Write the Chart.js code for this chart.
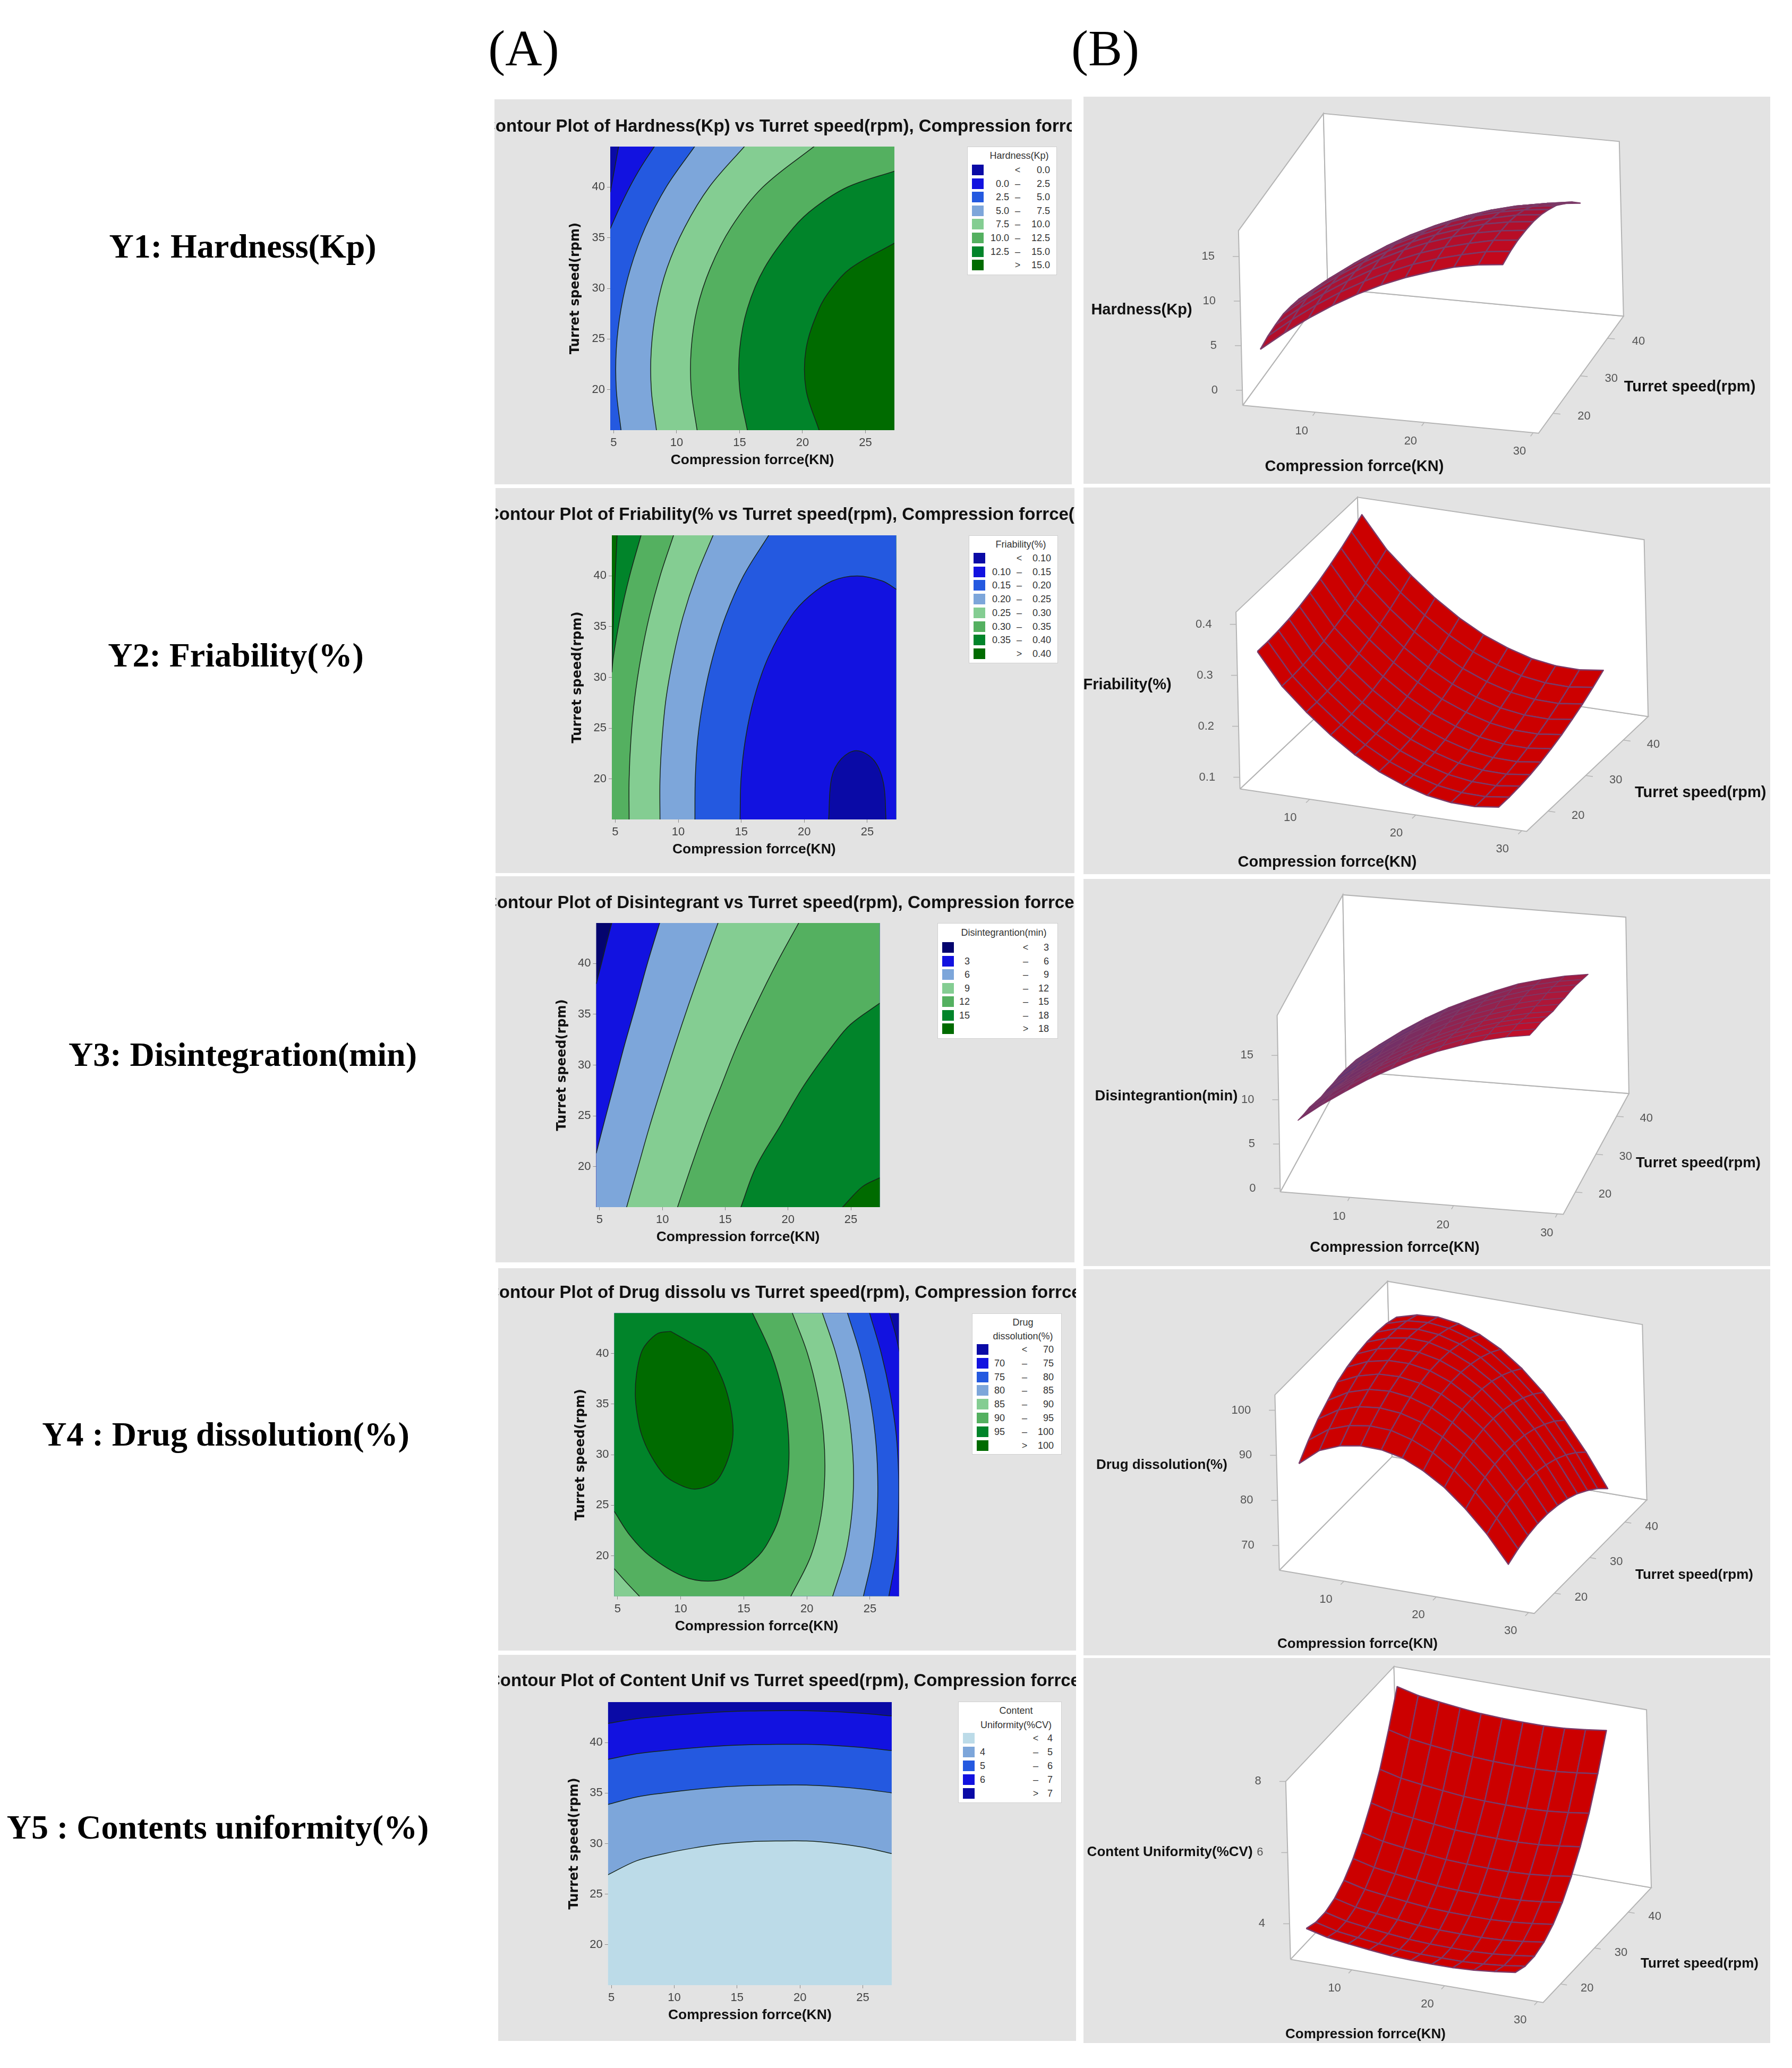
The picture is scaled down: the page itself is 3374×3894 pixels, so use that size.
<!DOCTYPE html>
<html>
<head>
<meta charset="utf-8">
<title>Contour and surface plots</title>
<script src="https://cdn.jsdelivr.net/npm/chart.js@4"></script>
<style>
  html, body { margin: 0; background: #fff; }
  #page { position: relative; width: 3374px; height: 3894px; overflow: hidden; }
  #page canvas { position: absolute; background: #e3e3e3; }
  .rowName { position: absolute; transform: translate(-50%, -50%); white-space: nowrap; font: bold 64px "Liberation Serif", serif; color: #000; }
  .colName { position: absolute; transform: translate(-50%, -50%); font: 96px "Liberation Serif", serif; color: #000; }
  .legend { position: absolute; background: #fff; border: 1px solid #cfcfcf; box-sizing: border-box; font: 18px "Liberation Sans", sans-serif; color: #333; }
  .legend div { position: absolute; white-space: nowrap; line-height: 20px; }
</style>
</head>
<body>
<div id="page"></div>
<script>
// axis limits of the contour plots
const forceMin = 4.73, forceMax = 27.3, speedMin = 16, speedMax = 44;
const forceTicks = [5, 10, 15, 20, 25];
const speedTicks = [20, 25, 30, 35, 40];
const force3dTicks = [10, 20, 30];
const speed3dTicks = [20, 30, 40];

const rowNames = ['Y1: Hardness(Kp)', 'Y2: Friability(%)', 'Y3: Disintegration(min)', 'Y4 : Drug dissolution(%)', 'Y5 : Contents uniformity(%)'];
const plotTitles = [
  'Contour Plot of Hardness(Kp) vs Turret speed(rpm), Compression forrce(KN)',
  'Contour Plot of Friability(% vs Turret speed(rpm), Compression forrce(KN)',
  'Contour Plot of Disintegrant vs Turret speed(rpm), Compression forrce(KN)',
  'Contour Plot of Drug dissolu vs Turret speed(rpm), Compression forrce(KN)',
  'Contour Plot of Content Unif vs Turret speed(rpm), Compression forrce(KN)'
];
const valueNames = ['Hardness(Kp)', 'Friability(%)', 'Disintegrantion(min)', 'Drug dissolution(%)', 'Content Uniformity(%CV)'];

// contour lines, [force, speed]
const hardnessContours = [
  [[5.4,44.07],[5.1,42],[4.73,39.5]],
  [[8.27,44.07],[7.18,42],[6.27,40],[5.48,38],[4.73,35.9]],
  [[11.47,44.07],[9.17,40],[7.51,36],[6.34,32],[5.59,28],[5.21,24],[5.21,20],[5.59,15.98]],
  [[15.43,44.07],[12.59,40],[10.63,36],[9.24,32],[8.4,28],[7.99,24],[7.99,20],[8.4,15.98]],
  [[20.98,44.07],[16.85,40],[14.32,36],[12.68,32],[11.63,28],[11.16,24],[11.16,20],[11.63,15.98]],
  [[27.35,41.6],[23.57,40],[21,38],[19.29,36],[16.97,32],[15.62,28],[15.01,24],[15.01,20],[15.62,15.98]],
  [[27.35,34.5],[23.83,32],[22.31,30],[21.32,28],[20.28,24],[20.28,20],[21.32,15.98]]
];
const friabilityContours = [
  [[5.15,44.05],[5,40],[4.85,35.5],[4.73,31]],
  [[7.06,44.05],[6.14,40],[5.4,36],[4.85,32],[4.73,30.5]],
  [[9.64,44.05],[8.56,40],[7.7,36],[7.04,32],[6.55,28],[6.25,24],[6.1,20],[6.1,15.9]],
  [[12.78,44.05],[11.43,40],[10.38,36],[9.61,32],[9.04,28],[8.72,24],[8.55,20],[8.55,15.9]],
  [[17.2,44.05],[15.17,40],[13.75,36],[12.74,32],[12.02,28],[11.55,24],[11.35,20],[11.32,15.9]],
  [[27.34,38.65],[26.2,39.5],[24.2,40],[22.2,39.5],[20.4,38],[18.93,36],[17.15,32],[16.03,28],[15.34,24],[14.98,20],[14.9,15.9]],
  [[26.49,15.9],[26.28,19.6],[25.52,21.84],[24.15,22.78],[22.93,21.96],[22.17,20.1],[21.93,15.9]]
];
const disintegrationContours = [
  [[6,44.15],[5.55,42],[5.15,40],[4.73,38]],
  [[9.82,44.15],[8.8,40],[7.91,36],[6.99,32],[6.14,28],[5.29,24],[4.73,21.3]],
  [[14.47,44.15],[13.24,40],[12.1,36],[11.02,32],[9.99,28],[8.99,24],[8.07,20],[7.14,15.95]],
  [[20.91,44.15],[19.08,40],[17.47,36],[15.98,32],[14.69,28],[13.43,24],[12.29,20],[11.19,15.95]],
  [[27.3,36.1],[24.96,34],[23.59,32],[21.27,28],[19.37,24],[17.46,20],[16.23,15.95]],
  [[27.3,18.9],[25.9,18],[24.3,15.95]]
];
const dissolutionContours = [
  [[27.37,40],[27.01,42],[26.53,44.04]],
  [[26.49,15.95],[27.06,20],[27.25,24],[27.27,28],[27.08,32],[26.6,36],[25.9,40],[24.96,44.04]],
  [[24.47,15.95],[25.2,20],[25.56,24],[25.61,28],[25.41,32],[24.94,36],[24.21,40],[23.21,44.04]],
  [[22.03,15.95],[23.03,20],[23.55,24],[23.7,28],[23.52,32],[23.05,36],[22.3,40],[21.22,44.04]],
  [[18.71,15.95],[20.32,20],[21.13,24],[21.42,28],[21.32,32],[20.85,36],[20.05,40],[18.84,44.04]],
  [[4.73,24.4],[5.99,22],[7.54,20],[10.14,18],[12.16,17.5],[14.06,18],[16.16,20],[17.21,22],[17.86,24],[18.5,28],[18.54,32],[18.1,36],[17.17,40],[15.68,44.04]],
  [[9.2,42.2],[10.9,41],[12.18,40],[13.11,38],[13.7,36],[14.05,34],[14.15,32],[13.86,30],[13.18,28],[12.5,27.1],[11.1,26.6],[9.8,27.1],[8.7,28],[7.6,30],[6.9,32],[6.55,34],[6.4,36],[6.5,38],[6.85,40],[7.3,41],[8.2,42],[9.2,42.2]],
  [[4.73,18.73],[5.7,17.37],[6.77,15.95]]
];
const uniformityContours = [
  [[4.73,26.92],[7,28.3],[9.25,29.02],[11.5,29.56],[13.75,29.97],[16,30.19],[18.25,30.26],[20.5,30.26],[22.75,30.04],[25,29.64],[27.3,29.02]],
  [[4.73,33.87],[7,34.61],[9.25,35.02],[11.5,35.35],[13.75,35.6],[16,35.74],[18.25,35.79],[20.5,35.79],[22.75,35.65],[25,35.4],[27.3,35.02]],
  [[4.73,38.33],[7,38.89],[9.25,39.21],[11.5,39.47],[13.75,39.67],[16,39.78],[18.25,39.82],[20.5,39.82],[22.75,39.71],[25,39.51],[27.3,39.21]],
  [[4.73,41.89],[7,42.36],[9.25,42.63],[11.5,42.85],[13.75,43.03],[16,43.12],[18.25,43.15],[20.5,43.15],[22.75,43.06],[25,42.88],[27.3,42.63]]
];

// legend levels and colours, lowest band first
const hardnessLevels = ['0.0', '2.5', '5.0', '7.5', '10.0', '12.5', '15.0'];
const friabilityLevels = ['0.10', '0.15', '0.20', '0.25', '0.30', '0.35', '0.40'];
const disintegrationLevels = ['3', '6', '9', '12', '15', '18'];
const dissolutionLevels = ['70', '75', '80', '85', '90', '95', '100'];
const uniformityLevels = ['4', '5', '6', '7'];
const eightBands = ['#0a0aa6', '#1212e0', '#2459e0', '#7da6da', '#84cd92', '#54b060', '#01842a', '#006b00'];
const sevenBands = ['#04046e', '#1212e0', '#7da6da', '#84cd92', '#54b060', '#01842a', '#006b00'];
const fiveBands = ['#bcdbe8', '#7da6da', '#2459e0', '#1212e0', '#0a0aa6'];

// surface grid: one row per speed, one column per force
const surfaceForce = [4.75, 7, 9.25, 11.5, 13.75, 16, 18.25, 20.5, 22.75, 25, 27.25];
const surfaceSpeed = [16, 18.8, 21.6, 24.4, 27.2, 30, 32.8, 35.6, 38.4, 41.2, 44];
const hardnessSurface = [
  [4.2,6.3,8.2,9.9,11.4,12.7,13.8,14.7,15.5,16.0,16.3],
  [4.5,6.6,8.5,10.2,11.7,13.0,14.1,15.0,15.7,16.3,16.6],
  [4.6,6.7,8.6,10.3,11.8,13.1,14.2,15.1,15.8,16.4,16.7],
  [4.6,6.7,8.5,10.2,11.8,13.1,14.2,15.1,15.8,16.3,16.6],
  [4.3,6.4,8.3,10.0,11.5,12.8,13.9,14.8,15.6,16.1,16.4],
  [3.9,6.0,7.9,9.6,11.1,12.4,13.5,14.4,15.1,15.7,16.0],
  [3.3,5.4,7.3,9.0,10.5,11.8,13.0,13.9,14.6,15.1,15.4],
  [2.6,4.7,6.6,8.3,9.8,11.1,12.2,13.1,13.8,14.3,14.7],
  [1.7,3.8,5.7,7.4,8.9,10.2,11.3,12.2,12.9,13.4,13.7],
  [0.6,2.7,4.6,6.3,7.8,9.1,10.2,11.1,11.8,12.3,12.7],
  [-0.7,1.4,3.3,5.0,6.5,7.8,8.9,9.9,10.6,11.1,11.4]
];
const friabilitySurface = [
  [.339,.278,.234,.196,.164,.138,.119,.105,.098,.097,.103],
  [.339,.278,.234,.196,.164,.138,.119,.105,.098,.097,.103],
  [.341,.280,.236,.198,.166,.140,.121,.107,.100,.099,.105],
  [.344,.283,.239,.201,.169,.143,.124,.110,.103,.102,.108],
  [.349,.288,.244,.206,.174,.148,.129,.115,.108,.107,.113],
  [.356,.295,.251,.213,.181,.155,.136,.122,.115,.114,.120],
  [.364,.303,.259,.221,.189,.163,.144,.130,.123,.122,.128],
  [.374,.313,.269,.231,.199,.173,.154,.140,.133,.132,.138],
  [.385,.324,.280,.242,.210,.184,.165,.151,.144,.143,.149],
  [.398,.337,.293,.255,.223,.197,.178,.164,.157,.156,.162],
  [.412,.351,.307,.269,.237,.211,.192,.178,.171,.170,.176]
];
const disintegrationSurface = [
  [7.0,8.9,10.6,12.2,13.6,14.9,16.0,16.9,17.7,18.3,18.7],
  [6.5,8.4,10.2,11.8,13.2,14.4,15.5,16.5,17.2,17.8,18.2],
  [6.1,8.0,9.7,11.3,12.7,14.0,15.1,16.0,16.8,17.4,17.8],
  [5.5,7.4,9.1,10.7,12.1,13.4,14.5,15.4,16.2,16.8,17.2],
  [4.9,6.8,8.6,10.2,11.6,12.8,13.9,14.9,15.6,16.2,16.6],
  [4.5,6.4,8.1,9.7,11.1,12.4,13.5,14.4,15.2,15.8,16.2],
  [4.0,5.9,7.6,9.2,10.6,11.9,13.0,13.9,14.7,15.3,15.7],
  [3.6,5.5,7.3,8.9,10.3,11.5,12.6,13.6,14.3,14.9,15.3],
  [3.1,5.0,6.7,8.3,9.7,11.0,12.1,13.0,13.8,14.4,14.8],
  [2.5,4.4,6.2,7.8,9.2,10.4,11.5,12.5,13.2,13.8,14.2],
  [1.9,3.8,5.6,7.2,8.6,9.8,10.9,11.9,12.6,13.2,13.6]
];
const dissolutionSurface = [
  [87.4,91.1,92.9,93.7,93.6,92.6,90.5,87.6,83.6,78.8,72.9],
  [90.4,93.6,95.2,95.9,95.7,94.4,92.3,89.2,85.1,80.1,74.1],
  [92.9,95.7,97.2,97.7,97.3,96.0,93.6,90.4,86.2,81.0,74.9],
  [94.8,97.4,98.8,99.2,98.6,97.1,94.6,91.2,86.9,81.5,75.3],
  [96.7,98.8,100.0,100.2,99.5,97.9,95.3,91.7,87.2,81.7,75.3],
  [97.8,99.8,100.8,100.9,100.1,98.3,95.5,91.8,87.1,81.5,74.9],
  [98.5,100.4,101.3,101.2,100.2,98.3,95.4,91.5,86.7,80.9,74.2],
  [98.9,100.6,101.4,101.2,100.0,97.9,94.9,90.8,85.9,80.0,73.1],
  [98.9,100.5,101.1,100.7,99.4,97.2,94.0,89.8,84.7,78.7,71.6],
  [98.6,100.0,100.4,99.9,98.5,96.1,92.7,88.4,83.2,77.0,69.8],
  [97.8,99.1,99.4,98.7,97.1,94.6,91.1,86.6,81.2,74.9,67.6]
];
const uniformitySurface = [
  [3.81,3.66,3.58,3.51,3.45,3.42,3.41,3.41,3.44,3.50,3.58],
  [3.70,3.55,3.47,3.40,3.34,3.31,3.30,3.30,3.33,3.39,3.47],
  [3.70,3.55,3.47,3.40,3.34,3.31,3.30,3.30,3.33,3.39,3.47],
  [3.81,3.66,3.58,3.51,3.45,3.42,3.41,3.41,3.44,3.50,3.58],
  [4.03,3.88,3.80,3.73,3.67,3.64,3.63,3.63,3.66,3.72,3.80],
  [4.36,4.21,4.13,4.06,4.00,3.97,3.96,3.96,3.99,4.05,4.13],
  [4.81,4.66,4.58,4.51,4.45,4.42,4.41,4.41,4.44,4.50,4.58],
  [5.36,5.21,5.13,5.06,5.00,4.97,4.96,4.96,4.99,5.05,5.13],
  [6.02,5.87,5.79,5.72,5.66,5.63,5.62,5.62,5.65,5.71,5.79],
  [6.85,6.70,6.62,6.55,6.49,6.46,6.45,6.45,6.48,6.54,6.62],
  [7.78,7.63,7.55,7.48,7.42,7.39,7.38,7.38,7.41,7.47,7.55]
];
const hardnessValueTicks = [0, 5, 10, 15];
const friabilityValueTicks = [0.1, 0.2, 0.3, 0.4];
const disintegrationValueTicks = [0, 5, 10, 15];
const dissolutionValueTicks = [70, 80, 90, 100];
const uniformityValueTicks = [4, 6, 8];

// how each contour closes round the plot frame when it is shaded
const closeRight = [[forceMin, speedMin], [forceMax, speedMin], [forceMax, speedMax]];
const closeLeft = [[forceMin, speedMax], [forceMin, speedMin], [forceMax, speedMin]];
const closeUp = [[forceMax, speedMax], [forceMin, speedMax]];
const closeTopLeft = [[forceMin, speedMax]];
const closeBottomLeft = [[forceMin, speedMin]];
const closeNone = [];

const contourPlots = [
  { contours: hardnessContours, colours: eightBands, base: 0, shades: [1,2,3,4,5,6,7],
    closes: [closeRight,closeRight,closeRight,closeRight,closeRight,closeRight,closeRight], levels: hardnessLevels,
    panel: [931,187,2018,912], plot: [1149,276,1684,810], titleX: 909, titleY: 238.5, xTitleY: 866.6, yTitleX: 1084,
    legend: { box: [1821,276,169,242], head: ['Hardness(Kp)'], headX: 97, headY: [293], rowY: 320, step: 25.6, low: 78, dash: 94, high: 155 } },
  { contours: friabilityContours, colours: eightBands, base: 7, shades: [6,5,4,3,2,1,0],
    closes: [closeRight,closeRight,closeRight,closeRight,closeRight,closeRight,closeNone], levels: friabilityLevels,
    panel: [933,919,2023,1644], plot: [1152,1008,1687.5,1543], titleX: 916, titleY: 969.5, xTitleY: 1599.6, yTitleX: 1088,
    legend: { box: [1824,1008,168,241], head: ['Friability(%)'], headX: 97, headY: [1025], rowY: 1051, step: 25.7, low: 78, dash: 94, high: 154 } },
  { contours: disintegrationContours, colours: sevenBands, base: 0, shades: [1,2,3,4,5,6],
    closes: [closeRight,closeRight,closeRight,closeRight,closeRight,closeRight], levels: disintegrationLevels,
    panel: [933,1650,2023,2377], plot: [1122.5,1738,1656.5,2273], titleX: 912, titleY: 1701, xTitleY: 2329.6, yTitleX: 1059,
    legend: { box: [1765,1738,227,218], head: ['Disintegrantion(min)'], headX: 124, headY: [1756], rowY: 1784, step: 25.5, low: 60, dash: 165, high: 209 } },
  { contours: dissolutionContours, colours: eightBands, base: 0, shades: [1,2,3,4,5,6,7,4],
    closes: [closeLeft,closeLeft,closeLeft,closeLeft,closeLeft,closeTopLeft,closeNone,closeBottomLeft], levels: dissolutionLevels,
    panel: [938,2388,2026,3108], plot: [1156.4,2472.6,1692.6,3005.8], titleX: 916, titleY: 2435, xTitleY: 3062.5, yTitleX: 1093.7,
    legend: { box: [1830,2473,169,266], head: ['Drug','dissolution(%)'], headX: 95, headY: [2490,2516], rowY: 2541, step: 25.8, low: 61, dash: 98, high: 153 } },
  { contours: uniformityContours, colours: fiveBands, base: 0, shades: [1,2,3,4],
    closes: [closeUp,closeUp,closeUp,closeUp], levels: uniformityLevels,
    panel: [938,3116,2026,3843], plot: [1144.8,3205,1678.9,3738], titleX: 918, titleY: 3166, xTitleY: 3794.8, yTitleX: 1082,
    legend: { box: [1804,3204,195,191], head: ['Content','Uniformity(%CV)'], headX: 108, headY: [3221,3248], rowY: 3273, step: 26, low: 50, dash: 145, high: 177 } }
];

// o = front-left floor corner on the page, eu/ev/ew = box edges, force/speed/value = axis ranges of the box
const surfacePlots = [
  { surface: hardnessSurface, valueTicks: hardnessValueTicks, panel: [2040,182,3333,911],
    o: [2339.8,763.3], eu: [557,52.5], ev: [160,-220.5], ew: [-8,-329], force: [3.34,30.5], speed: [14.7,45.9], value: [-1.7,17.9],
    font: 29, forceAt: [2550,879], valueAt: [2149.5,584], speedAt: [3181.5,729], front: '#c4081c', back: '#7b2359', mesh: '#7b3a68', meshWidth: 2.5, frontWeight: 0.75 },
  { surface: friabilitySurface, valueTicks: friabilityValueTicks, panel: [2040,918,3333,1646],
    o: [2334.7,1485.6], eu: [539.6,79.9], ev: [228.9,-216.3], ew: [-7.6,-333], force: [3.43,30.45], speed: [14.3,46.6], value: [0.077,0.424],
    font: 29, forceAt: [2499,1624], valueAt: [2122.6,1290], speedAt: [3201.7,1493], front: '#cc0000', back: '#cc0000', mesh: '#7b3a68', meshWidth: 2.5, frontWeight: 1 },
  { surface: disintegrationSurface, valueTicks: disintegrationValueTicks, panel: [2040,1655,3333,2384],
    o: [2410.5,2244.3], eu: [532.8,42.1], ev: [123.7,-227.3], ew: [-5.9,-332.1], force: [3.32,30.57], speed: [14.17,46], value: [-0.4,19.5],
    font: 27.5, forceAt: [2626,2349.5], valueAt: [2196,2064], speedAt: [3197.5,2190.7], front: '#c00f2a', back: '#5a3a7a', mesh: '#7b3a68', meshWidth: 1.5, frontWeight: 0.3 },
  { surface: dissolutionSurface, valueTicks: dissolutionValueTicks, panel: [2040,2390,3333,3117],
    o: [2408.8,2956.8], eu: [479.8,81.3], ev: [212.1,-213.9], ew: [-8.4,-330.2], force: [3,30.6], speed: [14.28,46.23], value: [64.5,103.4],
    font: 26, forceAt: [2556,3095.5], valueAt: [2187.4,2759], speedAt: [3190,2966], front: '#cc0000', back: '#cc0000', mesh: '#7b3a68', meshWidth: 2.5, frontWeight: 1 },
  { surface: uniformitySurface, valueTicks: uniformityValueTicks, panel: [2040,3122,3333,3847],
    o: [2429.8,3689.4], eu: [475.6,81.3], ev: [203.7,-216.3], ew: [-9,-335], force: [3.4,30.6], speed: [14.83,46.8], value: [3,8],
    font: 26, forceAt: [2571,3830.5], valueAt: [2202.6,3488], speedAt: [3200,3697.5], front: '#cc0000', back: '#cc0000', mesh: '#7b3a68', meshWidth: 2.5, frontWeight: 1 }
];

const rowCentres = [[457,464],[444,1234],[457,1986],[425,2701],[410,3441]];
const page = document.getElementById('page');

function addText(cls, text, x, y) {
  const el = document.createElement('div');
  el.className = cls;
  el.textContent = text;
  el.style.left = x + 'px';
  el.style.top = y + 'px';
  page.appendChild(el);
}
rowNames.forEach((name, i) => addText('rowName', name, rowCentres[i][0], rowCentres[i][1]));
addText('colName', '(A)', 986, 90);
addText('colName', '(B)', 2081, 90);

function addCanvas(panel) {
  const canvas = document.createElement('canvas');
  canvas.width = panel[2] - panel[0];
  canvas.height = panel[3] - panel[1];
  canvas.style.left = panel[0] + 'px';
  canvas.style.top = panel[1] + 'px';
  page.appendChild(canvas);
  return canvas;
}

// fills the polygon of a line dataset before its border is drawn
const polygonFill = {
  id: 'polygonFill',
  beforeDatasetDraw(chart, args) {
    const ds = chart.data.datasets[args.index];
    if (!ds.shade) return;
    const line = args.meta.dataset;
    const { ctx, chartArea, scales } = chart;
    line.updateControlPoints(chartArea, 'x');
    ctx.save();
    ctx.beginPath();
    ctx.rect(chartArea.left, chartArea.top, chartArea.width, chartArea.height);
    ctx.clip();
    ctx.beginPath();
    line.path(ctx);
    (ds.corners || []).forEach(c => ctx.lineTo(scales.x.getPixelForValue(c[0]), scales.y.getPixelForValue(c[1])));
    ctx.closePath();
    ctx.fillStyle = ds.shade;
    ctx.fill();
    ctx.restore();
  }
};
Chart.register(polygonFill);

function addLegend(plot) {
  const lg = plot.legend;
  const box = document.createElement('div');
  box.className = 'legend';
  box.style.cssText = `left:${lg.box[0]}px;top:${lg.box[1]}px;width:${lg.box[2]}px;height:${lg.box[3]}px`;
  const put = (text, x, y, how) => {
    const el = document.createElement('div');
    el.textContent = text;
    el.style.top = (y - lg.box[1] - 11) + 'px';
    el.style.left = x + 'px';
    el.style.transform = how === 'right' ? 'translateX(-100%)' : 'translateX(-50%)';
    box.appendChild(el);
  };
  lg.head.forEach((h, i) => put(h, lg.headX, lg.headY[i], 'middle'));
  plot.colours.forEach((colour, i) => {
    const y = lg.rowY + i * lg.step;
    const sw = document.createElement('div');
    sw.style.cssText = `left:8px;top:${y - lg.box[1] - 11}px;width:22px;height:20px;background:${colour}`;
    box.appendChild(sw);
    const n = plot.levels.length;
    if (i === 0) {
      put('<', lg.dash, y, 'middle');
      put(plot.levels[0], lg.high, y, 'right');
    } else if (i === n) {
      put('>', lg.dash, y, 'middle');
      put(plot.levels[n - 1], lg.high, y, 'right');
    } else {
      put(plot.levels[i - 1], lg.low, y, 'right');
      put('–', lg.dash, y, 'middle');
      put(plot.levels[i], lg.high, y, 'right');
    }
  });
  page.appendChild(box);
}

contourPlots.forEach((plot, p) => {
  const [pl, pt, pr, pb] = plot.panel;
  const [al, at, ar, ab] = plot.plot;
  const xTitleHeight = 31.8, yTitleWidth = 28.8;
  const axisH = plot.xTitleY + xTitleHeight / 2 - ab;
  const axisW = al - plot.yTitleX + yTitleWidth / 2;
  const datasets = plot.contours.map((pts, i) => ({
    data: pts.map(q => ({ x: q[0], y: q[1] })),
    showLine: true,
    pointRadius: 0,
    tension: 0.35,
    borderColor: '#17261b',
    borderWidth: 1.5,
    shade: plot.colours[plot.shades[i]],
    corners: plot.closes[i],
    order: plot.contours.length - i
  }));
  const panelBits = {
    id: 'panelBits' + p,
    beforeDatasetsDraw(chart) {
      const a = chart.chartArea;
      chart.ctx.fillStyle = plot.colours[plot.base];
      chart.ctx.fillRect(a.left, a.top, a.width, a.height);
    },
    afterDraw(chart) {
      const ctx = chart.ctx;
      ctx.save();
      ctx.font = 'bold 33px "Liberation Sans", sans-serif';
      ctx.fillStyle = '#111';
      ctx.textBaseline = 'middle';
      ctx.fillText(plotTitles[p], plot.titleX - pl, plot.titleY - pt);
      ctx.restore();
    }
  };
  new Chart(addCanvas(plot.panel), {
    type: 'scatter',
    data: { datasets },
    plugins: [panelBits],
    options: {
      responsive: false,
      animation: false,
      devicePixelRatio: 1,
      layout: { padding: { left: al - pl - axisW, right: pr - ar, top: at - pt, bottom: pb - ab - axisH } },
      plugins: { legend: { display: false }, tooltip: { enabled: false } },
      scales: {
        x: {
          type: 'linear', min: forceMin, max: forceMax,
          afterBuildTicks(s) { s.ticks = forceTicks.map(value => ({ value })); },
          afterFit(s) { s.height = axisH; },
          border: { display: false },
          grid: { drawOnChartArea: false, tickLength: 6, tickColor: '#8a8a8a' },
          ticks: { color: '#444', padding: 5, maxRotation: 0, font: { family: '"Liberation Sans", sans-serif', size: 22 } },
          title: { display: true, text: 'Compression forrce(KN)', color: '#111', padding: 0, font: { family: '"Liberation Sans", sans-serif', size: 26.5, weight: 'bold' } }
        },
        y: {
          type: 'linear', min: speedMin, max: speedMax,
          afterBuildTicks(s) { s.ticks = speedTicks.map(value => ({ value })); },
          afterFit(s) { s.width = axisW; },
          border: { display: false },
          grid: { drawOnChartArea: false, tickLength: 6, tickColor: '#8a8a8a' },
          ticks: { color: '#444', padding: 4, font: { family: '"Liberation Sans", sans-serif', size: 22 } },
          title: { display: true, text: 'Turret speed(rpm)', color: '#111', padding: 0, font: { family: '"DejaVu Sans", sans-serif', size: 24, weight: 'bold' } }
        }
      }
    }
  });
  addLegend(plot);
});

function project(cam, force, speed, value) {
  const u = (force - cam.force[0]) / (cam.force[1] - cam.force[0]);
  const v = (speed - cam.speed[0]) / (cam.speed[1] - cam.speed[0]);
  const w = (value - cam.value[0]) / (cam.value[1] - cam.value[0]);
  return {
    x: cam.o[0] + u * cam.eu[0] + v * cam.ev[0] + w * cam.ew[0],
    y: cam.o[1] + u * cam.eu[1] + v * cam.ev[1] + w * cam.ew[1]
  };
}

function mixColour(a, b, t) {
  const ch = (s, i) => parseInt(s.substr(1 + i * 2, 2), 16);
  return 'rgb(' + [0, 1, 2].map(i => Math.round(ch(a, i) + (ch(b, i) - ch(a, i)) * t)).join(',') + ')';
}

surfacePlots.forEach(cam => {
  const [f0, f1] = cam.force, [s0, s1] = cam.speed, [v0, v1] = cam.value;
  const P = (f, s, v) => project(cam, f, s, v);
  const edge = { showLine: true, pointRadius: 0, borderColor: '#b4b4b4', borderWidth: 2 };
  const datasets = [
    { ...edge, shade: '#fff', data: [P(f0,s0,v0), P(f1,s0,v0), P(f1,s1,v0), P(f0,s1,v0), P(f0,s0,v0)] },
    { ...edge, shade: '#fff', data: [P(f0,s0,v0), P(f0,s0,v1), P(f0,s1,v1), P(f0,s1,v0), P(f0,s0,v0)] },
    { ...edge, shade: '#fff', data: [P(f0,s1,v0), P(f0,s1,v1), P(f1,s1,v1), P(f1,s1,v0), P(f0,s1,v0)] }
  ];
  const du = { x: cam.eu[0] * 0.025, y: cam.eu[1] * 0.025 };
  const dv = { x: cam.ev[0] * 0.03, y: cam.ev[1] * 0.03 };
  const labels = [];
  const tick = (a, dx, dy) => datasets.push({ ...edge, borderWidth: 1.5, data: [a, { x: a.x + dx, y: a.y + dy }] });
  force3dTicks.forEach(f => {
    const a = P(f, s0, v0);
    tick(a, -dv.x, -dv.y);
    labels.push({ text: String(f), x: a.x - cam.ev[0] * 0.16, y: a.y - cam.ev[1] * 0.16, align: 'center' });
  });
  speed3dTicks.forEach(s => {
    const a = P(f1, s, v0);
    tick(a, du.x, du.y);
    labels.push({ text: String(s), x: a.x + cam.eu[0] * 0.105, y: a.y + cam.eu[1] * 0.105, align: 'center' });
  });
  cam.valueTicks.forEach(v => {
    const a = P(f0, s0, v);
    tick(a, -12, 0);
    labels.push({ text: String(v), x: a.x - 46, y: a.y, align: 'right' });
  });
  // cells from the back row forwards so that nearer ones cover farther ones
  for (let r = surfaceSpeed.length - 2; r >= 0; r--) {
    for (let c = 0; c < surfaceForce.length - 1; c++) {
      const node = (i, j) => P(surfaceForce[j], surfaceSpeed[i], cam.surface[i][j]);
      const t = cam.frontWeight * (1 - r / 9) + (1 - cam.frontWeight) * (c / 9);
      datasets.push({
        showLine: true, pointRadius: 0, borderColor: cam.mesh, borderWidth: cam.meshWidth, borderJoinStyle: 'round',
        shade: mixColour(cam.back, cam.front, t),
        data: [node(r, c), node(r, c + 1), node(r + 1, c + 1), node(r + 1, c), node(r, c)]
      });
    }
  }
  datasets.forEach((d, i) => { d.order = datasets.length - i; });
  const p = surfacePlots.indexOf(cam);
  const titles = [
    { text: 'Compression forrce(KN)', at: cam.forceAt },
    { text: valueNames[p], at: cam.valueAt },
    { text: 'Turret speed(rpm)', at: cam.speedAt }
  ];
  const boxText = {
    id: 'boxText' + p,
    afterDraw(chart) {
      const { ctx, scales } = chart;
      ctx.save();
      ctx.textBaseline = 'middle';
      ctx.font = '22px "Liberation Sans", sans-serif';
      ctx.fillStyle = '#555';
      labels.forEach(l => {
        ctx.textAlign = l.align;
        ctx.fillText(l.text, scales.x.getPixelForValue(l.x), scales.y.getPixelForValue(l.y));
      });
      ctx.font = `bold ${cam.font}px "Liberation Sans", sans-serif`;
      ctx.fillStyle = '#111';
      ctx.textAlign = 'center';
      titles.forEach(l => ctx.fillText(l.text, scales.x.getPixelForValue(l.at[0]), scales.y.getPixelForValue(l.at[1])));
      ctx.restore();
    }
  };
  new Chart(addCanvas(cam.panel), {
    type: 'scatter',
    data: { datasets },
    plugins: [boxText],
    options: {
      responsive: false,
      animation: false,
      devicePixelRatio: 1,
      plugins: { legend: { display: false }, tooltip: { enabled: false } },
      scales: {
        x: { type: 'linear', min: cam.panel[0], max: cam.panel[2], display: false },
        y: { type: 'linear', min: cam.panel[1], max: cam.panel[3], reverse: true, display: false }
      }
    }
  });
});
</script>
</body>
</html>
